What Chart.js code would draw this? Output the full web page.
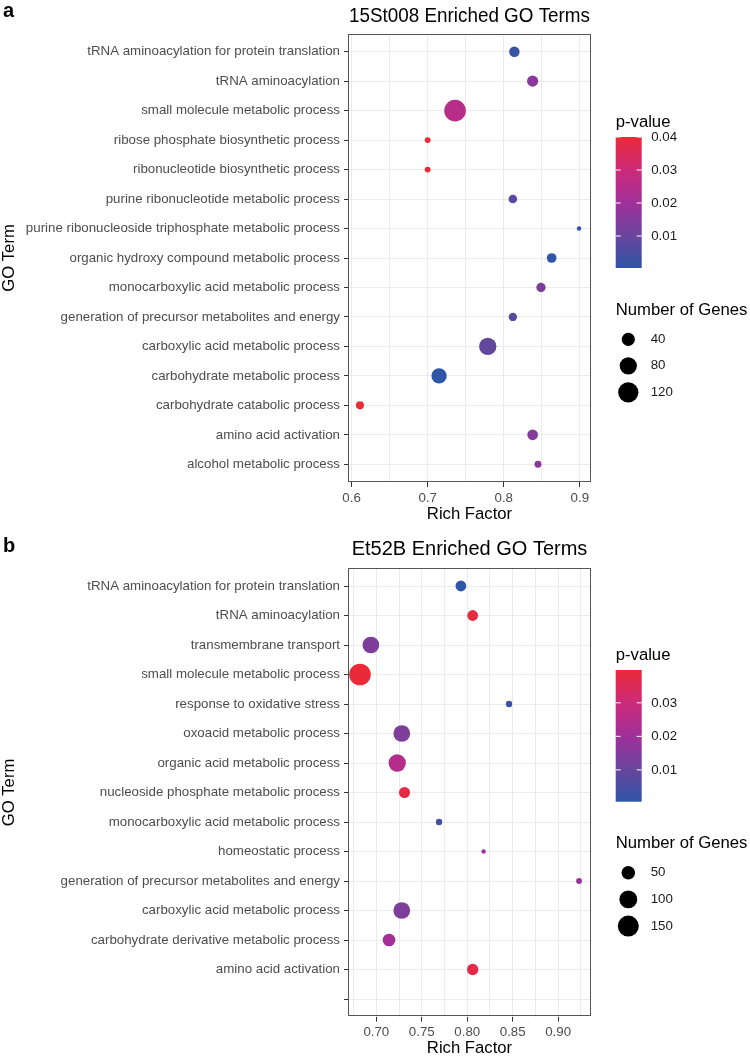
<!DOCTYPE html>
<html>
<head>
<meta charset="utf-8">
<title>Enriched GO Terms</title>
<script src="https://cdn.jsdelivr.net/npm/chart.js@4.4.0/dist/chart.umd.min.js"></script>
<style>
  html, body { margin: 0; padding: 0; background: #fff; }
  #page { position: relative; width: 750px; height: 1056px; font-family: "Liberation Sans", Arial, sans-serif; }
  .panel { position: absolute; left: 0; width: 750px; height: 528px; }
  .tag { position: absolute; left: 3px; font-size: 20px; line-height: 20px; font-weight: bold; color: #000; }
</style>
</head>
<body>
<div id="page">
  <div class="panel" style="top:0"><canvas id="chartA" width="750" height="528"></canvas></div>
  <div class="panel" style="top:528px"><canvas id="chartB" width="750" height="528"></canvas></div>
  <div class="tag" style="top:0">a</div>
  <div class="tag" style="top:535px">b</div>
</div>
<script>
// ---- panel a : 15St008 ----
const termsA = [
  'tRNA aminoacylation for protein translation',
  'tRNA aminoacylation',
  'small molecule metabolic process',
  'ribose phosphate biosynthetic process',
  'ribonucleotide biosynthetic process',
  'purine ribonucleotide metabolic process',
  'purine ribonucleoside triphosphate metabolic process',
  'organic hydroxy compound metabolic process',
  'monocarboxylic acid metabolic process',
  'generation of precursor metabolites and energy',
  'carboxylic acid metabolic process',
  'carbohydrate metabolic process',
  'carbohydrate catabolic process',
  'amino acid activation',
  'alcohol metabolic process'
];
const richA  = [0.814, 0.838, 0.736, 0.700, 0.700, 0.812, 0.899, 0.863, 0.849, 0.812, 0.779, 0.715, 0.611, 0.838, 0.845];
const pValA  = [0.0015, 0.0162, 0.0255, 0.0400, 0.0400, 0.0075, 0.0011, 0.0005, 0.0132, 0.0071, 0.0090, 0.0003, 0.0395, 0.0150, 0.0158];
const genesA = [22, 26, 140, 6, 6, 13, 5, 18, 16, 12, 81, 59, 11, 23, 8];
const xMajorA = [0.6, 0.7, 0.8, 0.9];
const xMinorA = [0.65, 0.75, 0.85];
const pTicksA = [0.01, 0.02, 0.03, 0.04];
const geneBreaksA = [40, 80, 120];

// ---- panel b : Et52B ----
const termsB = [
  'tRNA aminoacylation for protein translation',
  'tRNA aminoacylation',
  'transmembrane transport',
  'small molecule metabolic process',
  'response to oxidative stress',
  'oxoacid metabolic process',
  'organic acid metabolic process',
  'nucleoside phosphate metabolic process',
  'monocarboxylic acid metabolic process',
  'homeostatic process',
  'generation of precursor metabolites and energy',
  'carboxylic acid metabolic process',
  'carbohydrate derivative metabolic process',
  'amino acid activation',
  ''
];
const richB  = [0.793, 0.806, 0.694, 0.682, 0.846, 0.728, 0.723, 0.731, 0.769, 0.818, 0.923, 0.728, 0.714, 0.806];
const pValB  = [0.0005, 0.0386, 0.0139, 0.0398, 0.0025, 0.0139, 0.0249, 0.0378, 0.0033, 0.0202, 0.0182, 0.0139, 0.0210, 0.0374];
const genesB = [27, 27, 85, 160, 8, 85, 93, 29, 8, 6, 7, 85, 42, 31];
const xMajorB = [0.70, 0.75, 0.80, 0.85, 0.90];
const xMinorB = [0.675, 0.725, 0.775, 0.825, 0.875, 0.925];
const pTicksB = [0.01, 0.02, 0.03, 0.04];
const geneBreaksB = [50, 100, 150];

// ---- styling ----
Chart.defaults.font.family = '"Liberation Sans", Arial, sans-serif';
const GRADIENT = ['#2f55a6', '#6a459c', '#a0309a', '#cc2a7a', '#ea2a38'];
const R_MIN = 2.2, R_MAX = 10.8;
const SMALL = 13.3, MID = 16.7;

function hexRgb(h) {
  const n = parseInt(h.slice(1), 16);
  return [n >> 16, (n >> 8) & 255, n & 255];
}

function colorFor(p, lo, hi) {
  const t = Math.min(1, Math.max(0, (p - lo) / (hi - lo))) * (GRADIENT.length - 1);
  const i = Math.min(Math.floor(t), GRADIENT.length - 2);
  const f = t - i;
  const a = hexRgb(GRADIENT[i]), b = hexRgb(GRADIENT[i + 1]);
  return 'rgb(' + a.map((c, k) => Math.round(c + (b[k] - c) * f)).join(',') + ')';
}

// area-style size scale like ggplot's scale_size
function radiusFor(n, genes) {
  const lo = Math.min(...genes), hi = Math.max(...genes);
  return R_MIN + (R_MAX - R_MIN) * Math.sqrt(Math.max(0, (n - lo) / (hi - lo)));
}

function legendPlugin(cfg) {
  const pMin = Math.min(...cfg.p), pMax = Math.max(...cfg.p);
  return {
    id: 'goLegend',
    afterDatasetsDraw(chart) {
      // panel border
      const a = chart.chartArea, ctx = chart.ctx;
      ctx.save();
      ctx.strokeStyle = '#555';
      ctx.lineWidth = 1;
      ctx.strokeRect(Math.round(a.left) - 0.5, Math.round(a.top) + 0.5,
        Math.round(a.right - a.left) + 1, Math.round(a.bottom - a.top) - 1);
      ctx.restore();
    },
    afterDraw(chart) {
      const ctx = chart.ctx, L = cfg.legend;
      ctx.save();
      ctx.textBaseline = 'middle';
      ctx.textAlign = 'left';
      ctx.fillStyle = '#000';
      ctx.font = MID + 'px "Liberation Sans", Arial, sans-serif';
      ctx.fillText('p-value', L.x, L.pTitleY);
      ctx.fillText('Number of Genes', L.x, L.sizeTitleY);

      // colour bar
      const g = ctx.createLinearGradient(0, L.barBottom, 0, L.barTop);
      GRADIENT.forEach((c, i) => g.addColorStop(i / (GRADIENT.length - 1), c));
      ctx.fillStyle = g;
      ctx.fillRect(L.x, L.barTop, L.barW, L.barBottom - L.barTop);
      ctx.font = SMALL + 'px "Liberation Sans", Arial, sans-serif';
      cfg.pTicks.forEach(v => {
        if (v < pMin - 1e-9 || v > pMax + 1e-9) return;
        const y = L.barBottom - (v - pMin) / (pMax - pMin) * (L.barBottom - L.barTop);
        ctx.strokeStyle = '#fff';
        ctx.lineWidth = 1;
        ctx.beginPath();
        ctx.moveTo(L.x, y); ctx.lineTo(L.x + 5, y);
        ctx.moveTo(L.x + L.barW - 5, y); ctx.lineTo(L.x + L.barW, y);
        ctx.stroke();
        ctx.fillStyle = '#1a1a1a';
        ctx.fillText(v.toFixed(2), L.x + L.barW + 9.5, y);
      });

      // size keys
      cfg.geneBreaks.forEach((n, i) => {
        const y = L.sizeY0 + i * L.sizeStep;
        ctx.fillStyle = '#000';
        ctx.beginPath();
        ctx.arc(L.x + 12.6, y, radiusFor(n, cfg.genes), 0, Math.PI * 2);
        ctx.fill();
        ctx.fillStyle = '#1a1a1a';
        ctx.fillText(String(n), L.x + 35, y);
      });
      ctx.restore();
    }
  };
}

function makeChart(id, cfg) {
  const lo = Math.min(...cfg.rich), hi = Math.max(...cfg.rich);
  const pad = (hi - lo) * 0.05;
  const pMin = Math.min(...cfg.p), pMax = Math.max(...cfg.p);
  const isMajor = v => cfg.xMajor.some(t => Math.abs(t - v) < 1e-9);

  return new Chart(document.getElementById(id), {
    type: 'scatter',
    data: {
      datasets: [{
        data: cfg.rich.map((x, i) => ({ x: x, y: i + 1 })),
        pointRadius: c => radiusFor(cfg.genes[c.dataIndex], cfg.genes),
        pointHoverRadius: c => radiusFor(cfg.genes[c.dataIndex], cfg.genes),
        pointBackgroundColor: c => colorFor(cfg.p[c.dataIndex], pMin, pMax),
        pointBorderWidth: 0,
        showLine: false
      }]
    },
    options: {
      responsive: false,
      animation: false,
      layout: { padding: { left: 0, right: 160, top: 0, bottom: 0 } },
      plugins: {
        legend: { display: false },
        tooltip: { enabled: false },
        title: {
          display: true,
          text: cfg.title,
          fullSize: false,
          color: '#000',
          font: { size: 20, weight: 'normal', lineHeight: 1.2 },
          padding: cfg.titlePad
        }
      },
      scales: {
        x: {
          type: 'linear',
          min: lo - pad,
          max: hi + pad,
          afterBuildTicks: s => {
            s.ticks = cfg.xMajor.concat(cfg.xMinor).sort((a, b) => a - b).map(v => ({ value: v }));
          },
          afterFit: s => { s.height = cfg.xScaleH; },
          ticks: {
            autoSkip: false,
            maxRotation: 0,
            padding: 3,
            color: '#4d4d4d',
            font: { size: SMALL },
            callback: v => isMajor(v) ? v.toFixed(cfg.digits) : ''
          },
          grid: {
            color: '#ebebeb',
            tickLength: 5,
            tickColor: c => (c.tick && isMajor(c.tick.value)) ? '#333' : 'rgba(0,0,0,0)'
          },
          border: { display: false },
          title: {
            display: true,
            text: 'Rich Factor',
            color: '#000',
            font: { size: MID, lineHeight: 1 },
            padding: { top: 0, bottom: cfg.xTitlePadB }
          }
        },
        y: {
          type: 'linear',
          reverse: true,
          min: 0.4,
          max: cfg.terms.length + 0.6,
          afterBuildTicks: s => { s.ticks = cfg.terms.map((_, i) => ({ value: i + 1 })); },
          afterFit: s => { s.width = 349; },
          ticks: {
            autoSkip: false,
            padding: 4,
            color: '#4d4d4d',
            font: { size: SMALL },
            callback: v => cfg.terms[Math.round(v) - 1]
          },
          grid: { color: '#ebebeb', tickLength: 5, tickColor: '#333' },
          border: { display: false },
          title: {
            display: true,
            text: 'GO Term',
            color: '#000',
            font: { size: MID, lineHeight: 1 },
            padding: { top: 1.5, bottom: 0 }
          }
        }
      }
    },
    plugins: [legendPlugin(cfg)]
  });
}

makeChart('chartA', {
  title: '15St008 Enriched GO Terms',
  terms: termsA, rich: richA, p: pValA, genes: genesA,
  xMajor: xMajorA, xMinor: xMinorA, digits: 1,
  pTicks: pTicksA, geneBreaks: geneBreaksA,
  titlePad: { top: 4, bottom: 6 },
  xScaleH: 46, xTitlePadB: 5,
  legend: { x: 615.7, barW: 26, pTitleY: 122, barTop: 137, barBottom: 268,
            sizeTitleY: 310.5, sizeY0: 339.3, sizeStep: 26.5 }
});

makeChart('chartB', {
  title: 'Et52B Enriched GO Terms',
  terms: termsB, rich: richB, p: pValB, genes: genesB,
  xMajor: xMajorB, xMinor: xMinorB, digits: 2,
  pTicks: pTicksB, geneBreaks: geneBreaksB,
  titlePad: { top: 9, bottom: 7.3 },
  xScaleH: 39.3, xTitlePadB: -0.5,
  legend: { x: 615.7, barW: 26, pTitleY: 127.5, barTop: 142, barBottom: 273.7,
            sizeTitleY: 315.5, sizeY0: 344.7, sizeStep: 26.7 }
});
</script>
</body>
</html>
